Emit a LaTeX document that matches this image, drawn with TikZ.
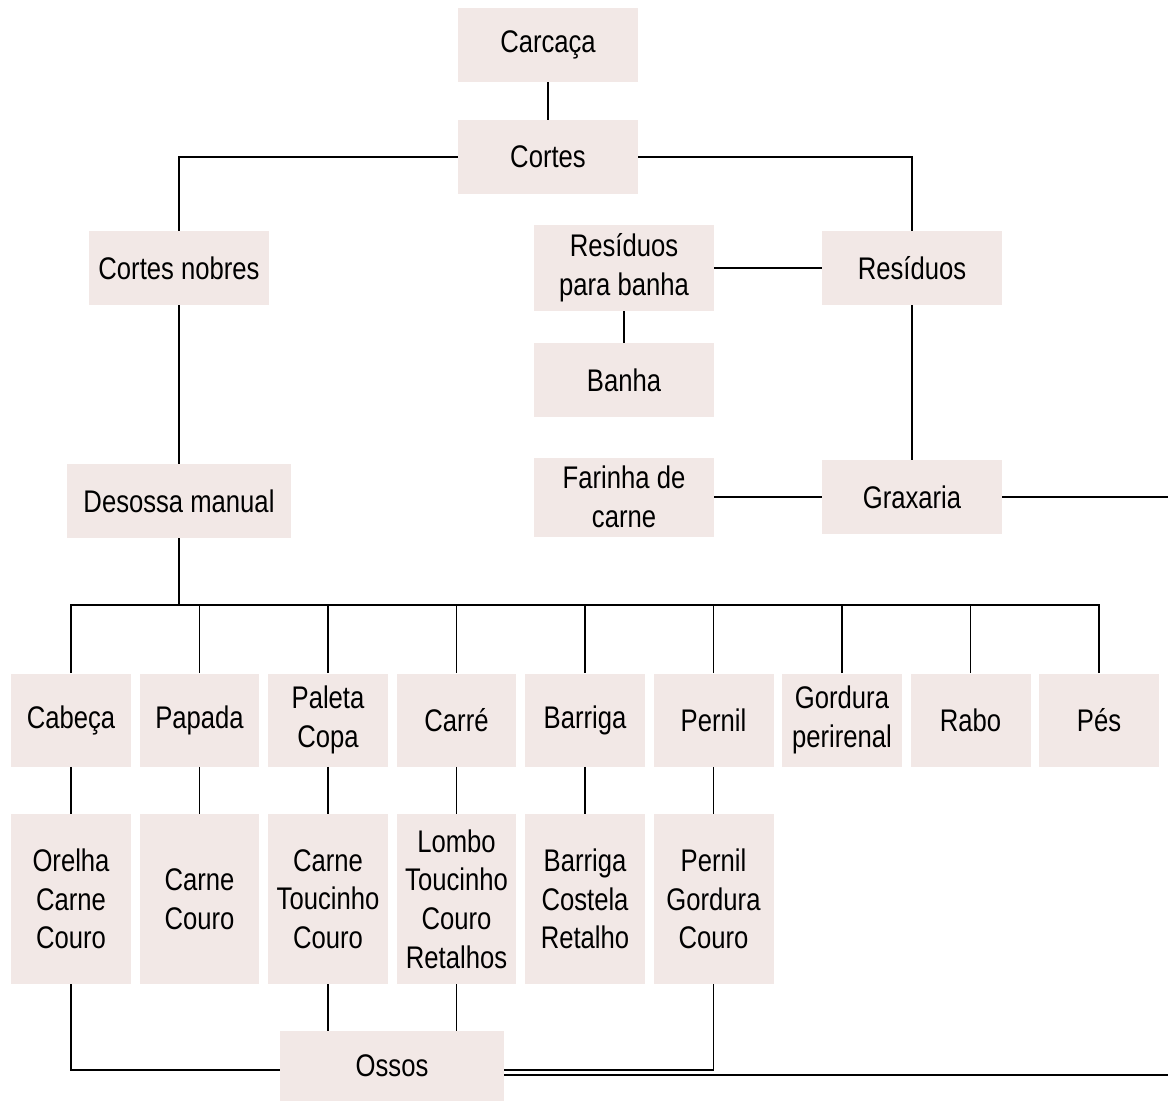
\documentclass[tikz,border=0pt]{standalone}
\usepackage{fontspec}
\setmainfont[FakeStretch=0.82]{Liberation Sans}
\usepackage{xcolor}
\usepackage{tikz}
\usetikzlibrary{positioning,calc}
\definecolor{boxfill}{RGB}{242,232,230}

\begin{document}
\begin{tikzpicture}[
    x=0.02cm, y=-0.02cm,
    box/.style={rectangle, fill=boxfill, align=center, inner sep=1pt, minimum width=3.6cm, minimum height=1.48cm, font=\fontsize{17.8}{22}\selectfont},
    part/.style={box, minimum width=2.4cm, minimum height=1.86cm},
    detail/.style={box, minimum width=2.4cm, minimum height=3.4cm},
    link/.style={line width=1.1pt}
]
    \useasboundingbox (0,0) rectangle (1168,1102);
    \node[box] (carcaca) at (548,45) {Carcaça};
    \node[box] (cortes) at (548,157) {Cortes};
    \node[box] (nobres) at (179,268) {Cortes nobres};
    \node[box, minimum height=1.72cm] (resbanha) at (624,268) {Resíduos\\para banha};
    \node[box] (residuos) at (912,268) {Resíduos};
    \node[box] (banha) at (624,380) {Banha};
    \node[box, minimum width=4.48cm] (desossa) at (179,501) {Desossa manual};
    \node[box, minimum height=1.58cm] (farinha) at (624,497) {Farinha de\\carne};
    \node[box] (graxaria) at (912,497) {Graxaria};
    \node[box, minimum width=4.48cm, minimum height=1.4cm] (ossos) at (392,1066) {Ossos};
    \coordinate (bus) at (179,605);
    \coordinate (edgeA) at (1168,497);
    \coordinate (edgeB) at (1168,1075);

    % cortes por peça
    \foreach \nm/\txt [count=\i] in {cabeca/Cabeça, papada/Papada, paleta/{Paleta\\Copa}, carre/Carré, barriga/Barriga, pernil/Pernil, gordura/{Gordura\\perirenal}, rabo/Rabo, pes/Pés}{
        \node[part] (\nm) at ({71+(\i-1)*128.5},720) {\txt};
        \draw[link] (\nm.north) |- (bus);
    }
    \foreach \nm/\txt in {cabeca/{Orelha\\Carne\\Couro}, papada/{Carne\\Couro}, paleta/{Carne\\Toucinho\\Couro}, carre/{Lombo\\Toucinho\\Couro\\Retalhos}, barriga/{Barriga\\Costela\\Retalho}, pernil/{Pernil\\Gordura\\Couro}}{
        \node[detail] (d\nm) at (\nm |- 0,899) {\txt};
        \draw[link] (\nm) -- (d\nm);
    }

    \draw[link] (carcaca) -- (cortes);
    \draw[link] (cortes.west) -| (nobres.north);
    \draw[link] (cortes.east) -| (residuos.north);
    \draw[link] (residuos) -- (resbanha);
    \draw[link] (resbanha) -- (banha);
    \draw[link] (residuos.south -| graxaria.north) -- (graxaria.north);
    \draw[link] (graxaria) -- (farinha);
    \draw[link] (graxaria.east |- edgeA) -- (edgeA);
    \draw[link] (nobres) -- (desossa);
    \draw[link] (desossa) -- (bus);
    \draw[link] (dcabeca.south) |- ([yshift=-2pt]ossos.west);
    \draw[link] (dpaleta.south) -- (dpaleta.south |- ossos.north);
    \draw[link] (dcarre.south) -- (dcarre.south |- ossos.north);
    \draw[link] (dpernil.south) |- ([yshift=-2pt]ossos.east);
    \draw[link] (ossos.east |- edgeB) -- (edgeB);
\end{tikzpicture}
\end{document}
